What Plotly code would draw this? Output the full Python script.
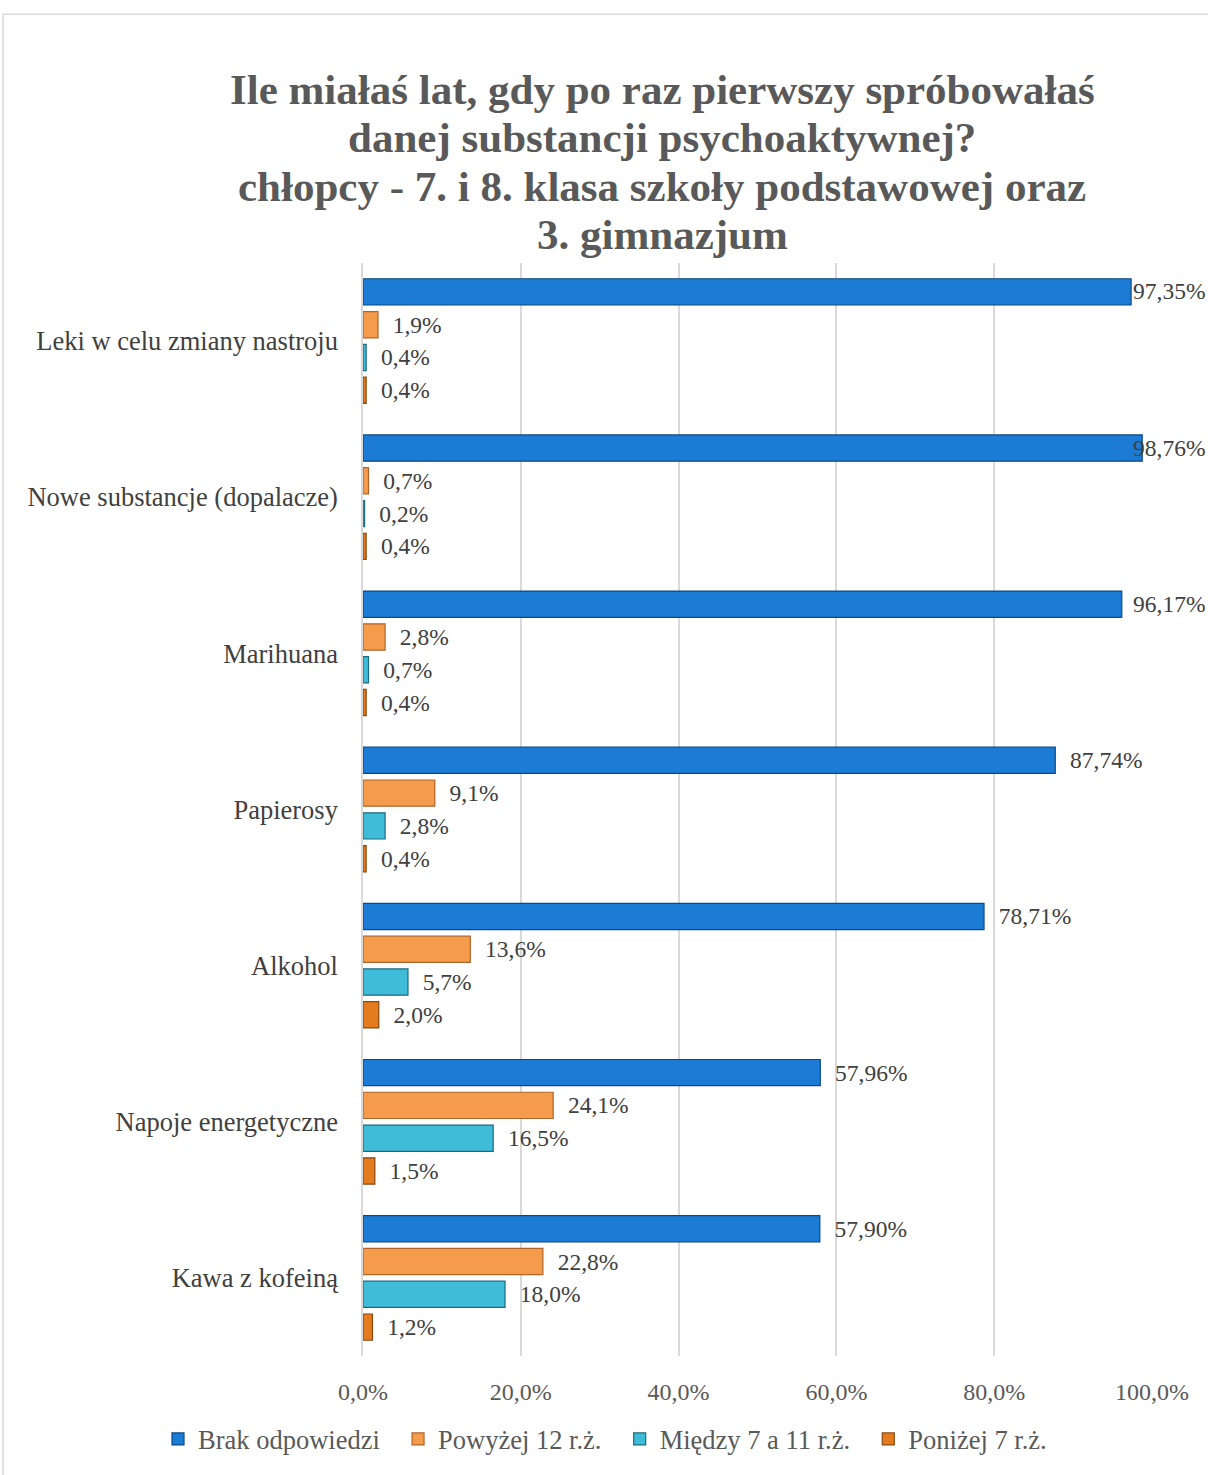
import plotly.graph_objects as go

categories = [
    "Leki w celu zmiany nastroju",
    "Nowe substancje (dopalacze)",
    "Marihuana",
    "Papierosy",
    "Alkohol",
    "Napoje energetyczne",
    "Kawa z kofeiną",
]
brak = [97.35, 98.76, 96.17, 87.74, 78.71, 57.96, 57.90]
powyzej_12 = [1.9, 0.7, 2.8, 9.1, 13.6, 24.1, 22.8]
miedzy_7_11 = [0.4, 0.2, 0.7, 2.8, 5.7, 16.5, 18.0]
ponizej_7 = [0.4, 0.4, 0.4, 0.4, 2.0, 1.5, 1.2]

series = [
    ("Brak odpowiedzi", brak, 2, "#1c7bd4", "#0d4a85"),
    ("Powyżej 12 r.ż.", powyzej_12, 1, "#f59b4c", "#b0642a"),
    ("Między 7 a 11 r.ż.", miedzy_7_11, 1, "#3fbcd8", "#1c6a7e"),
    ("Poniżej 7 r.ż.", ponizej_7, 1, "#e47b1e", "#8a480e"),
]

x_ticks = [0, 20, 40, 60, 80, 100]
title_lines = [
    "Ile miałaś lat, gdy po raz pierwszy spróbowałaś",
    "danej substancji psychoaktywnej?",
    "chłopcy - 7. i 8. klasa szkoły podstawowej oraz",
    "3. gimnazjum",
]

FONT = "Liberation Serif"
NBSP = "\u00a0"
W, H = 1208, 1475
L, R, T, B = 363, 56, 263, 109
PW, PH = W - L - R, H - T - B


def px_x(x):
    return (x - L) / PW


def px_y(y):
    return (H - B - y) / PH


def fmt(v, dec):
    return f"{v:.{dec}f}".replace(".", ",") + "%"


fig = go.Figure()
n = len(series)
slot = PH / len(categories) * (1 - 0.16) / n
for k, (name, values, dec, color, edge) in enumerate(series):
    # labels that would run past the right edge get pinned to it, as in Excel
    fig.add_bar(
        y=categories,
        x=values,
        name=name + NBSP * 2,
        orientation="h",
        marker=dict(color=color, line=dict(color=edge, width=1.2)),
        text=["" if v > 95 else NBSP * 2 + fmt(v, dec) for v in values],
        textposition="outside",
        textfont=dict(family=FONT, size=23.5, color="#404040"),
        constraintext="none",
        cliponaxis=False,
    )
    for cat, v in zip(categories, values):
        if v > 95:
            fig.add_annotation(
                text=fmt(v, dec),
                x=px_x(W - 1), xref="paper", xanchor="right",
                y=cat, yref="y", yanchor="middle",
                yshift=((n - 1) / 2 - k) * slot,
                showarrow=False,
                font=dict(family=FONT, size=23.5, color="#404040"),
            )

for i, line in enumerate(title_lines):
    fig.add_annotation(
        text=f"<b>{line}</b>",
        xref="paper", yref="paper",
        x=px_x(662), y=px_y(88 + 48.7 * i),
        xanchor="center", yanchor="middle",
        showarrow=False,
        font=dict(family=FONT, size=43, color="#595959"),
    )

# chart frame, partly cropped in the source image
fig.add_shape(
    type="rect", xref="paper", yref="paper",
    x0=px_x(3), x1=1.2, y0=-0.2, y1=px_y(12),
    line=dict(color="#d9d9d9", width=1.5),
)

fig.update_xaxes(
    range=[0, 100],
    tickvals=x_ticks,
    ticktext=[fmt(t, 1) for t in x_ticks],
    showgrid=True, gridcolor="#d9d9d9", gridwidth=1.5,
    zeroline=False, showline=False,
    tickfont=dict(family=FONT, size=24, color="#595959"),
    ticklabelstandoff=19,
)
fig.update_yaxes(
    autorange="reversed",
    showline=True, linecolor="#d9d9d9", linewidth=1.5,
    tickfont=dict(family=FONT, size=26.5, color="#404040"),
    ticklabelstandoff=18,
)
fig.update_layout(
    width=W,
    height=H,
    barmode="group",
    bargap=0.16,
    bargroupgap=0.2,
    plot_bgcolor="white",
    paper_bgcolor="white",
    margin=dict(l=L, r=R, t=T, b=B),
    legend=dict(
        orientation="h",
        x=px_x(158), xanchor="left",
        y=px_y(1450), yanchor="middle",
        font=dict(family=FONT, size=26.5, color="#595959"),
        itemwidth=30,
    ),
)

fig.write_html(
    "out.html",
    config={"displayModeBar": False},
    post_script="document.body.style.margin = '0';",
)
